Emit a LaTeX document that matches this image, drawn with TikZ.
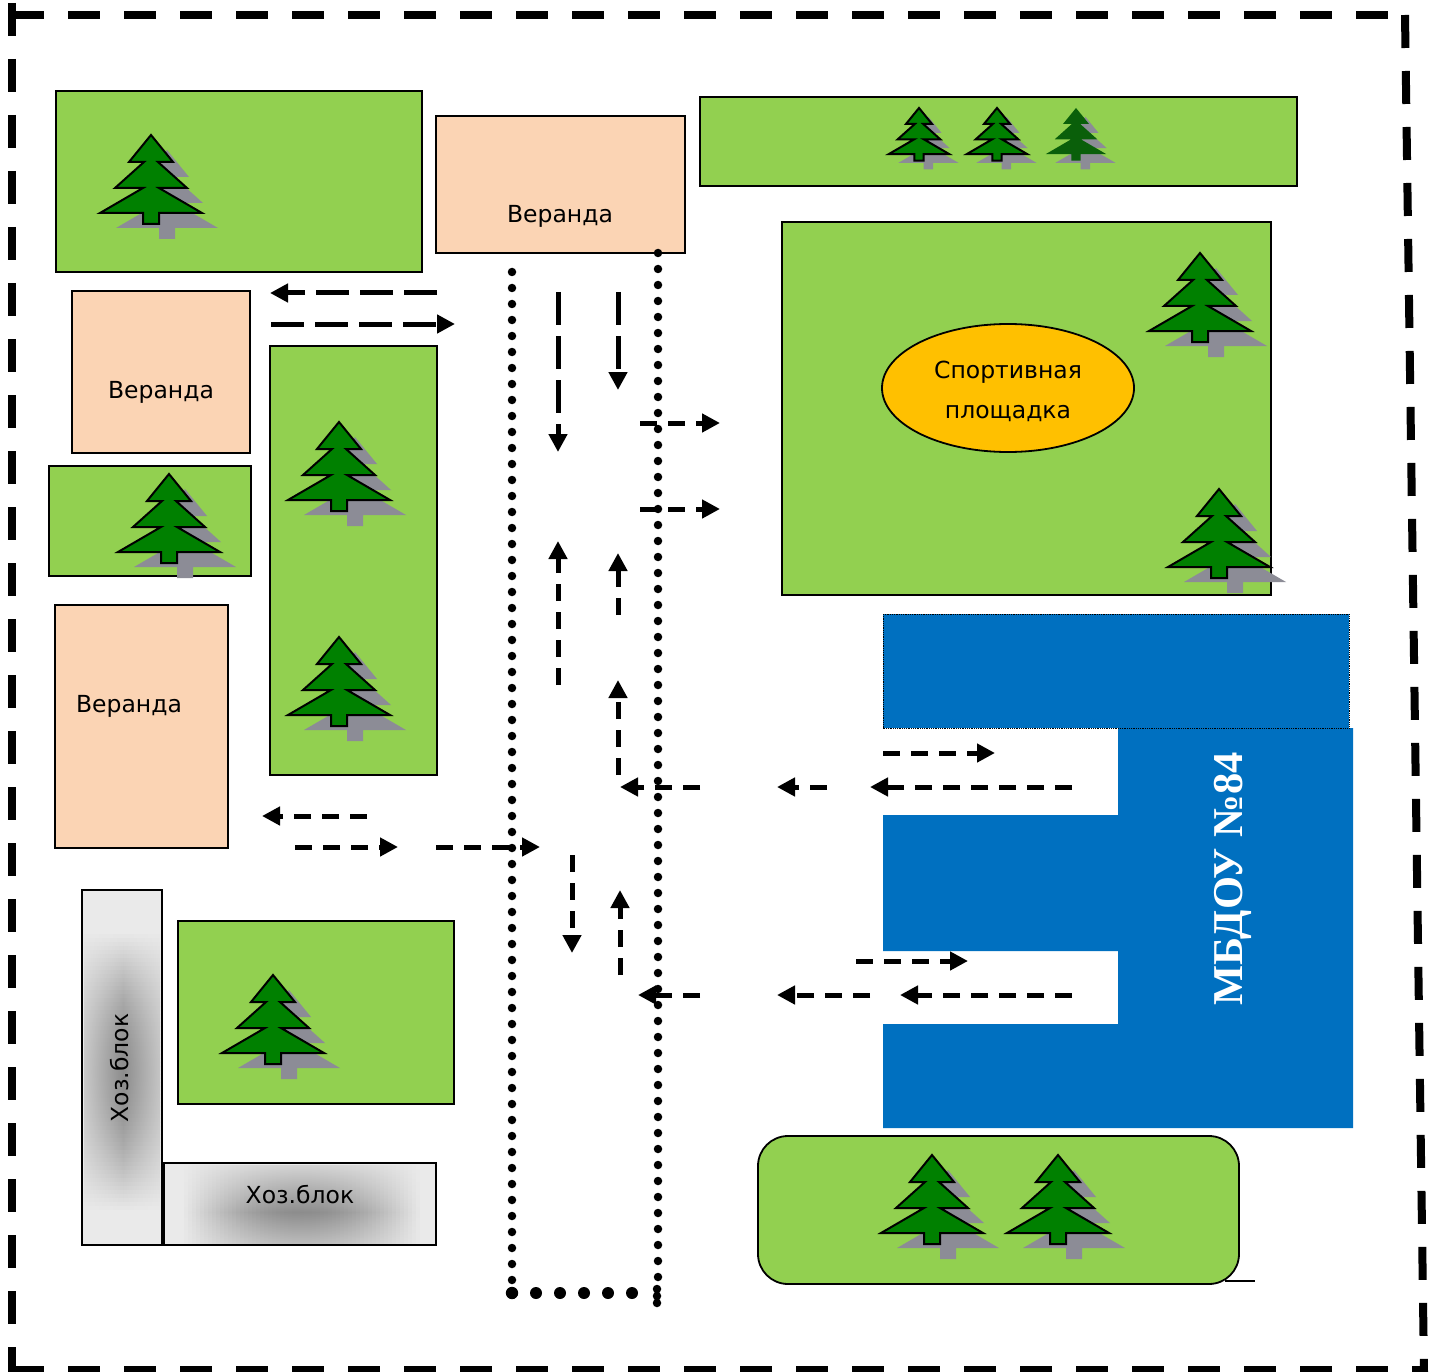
\documentclass[tikz,border=0pt]{standalone}
\usepackage{fontspec}
\setmainfont{DejaVu Sans}
\newfontfamily\titlefont{Liberation Serif}
\usetikzlibrary{arrows.meta}
\definecolor{lawngreen}{HTML}{92D050}
\definecolor{verandapeach}{HTML}{FBD4B4}
\definecolor{housemblue}{HTML}{0070C0}
\definecolor{fieldyellow}{HTML}{FFC000}
\definecolor{firgreen}{HTML}{008000}
\definecolor{firdark}{HTML}{0A5F0A}
\definecolor{firshadow}{HTML}{8C8C96}
\definecolor{blockgray}{HTML}{EAEAEA}
\def\firpath{(0,0) -- (22,27) -- (7,27) -- (36,53) -- (8,53) -- (51,78) -- (8,78) -- (8,89)
  -- (-8,89) -- (-8,78) -- (-51,78) -- (-8,53) -- (-36,53) -- (-7,27) -- (-22,27) -- cycle}
\tikzset{
  lawn/.style={draw=black,line width=1.8pt,fill=lawngreen},
  veranda/.style={draw=black,line width=1.8pt,fill=verandapeach},
  block/.style={draw=black,line width=1.8pt,fill=blockgray},
  fence/.style={line width=8pt},
  pathdots/.style={line width=8.5pt,line cap=round,dash pattern=on 0pt off 16pt},
  walk/.style={line width=5pt,-{Triangle[width=18pt,length=18pt]}},
  walklong/.style={walk,dash pattern=on 33pt off 11pt},
  walkshort/.style={walk,dash pattern=on 17pt off 11pt},
  label/.style={font=\fontsize{23.5}{28}\selectfont,text=black},
  pics/fir/.style={code={
    \fill[firshadow,shift={(16,15)}] \firpath;
    \draw[fill=firgreen,line width=2pt,miter limit=4] \firpath;
  }},
  pics/firdim/.style={code={
    \fill[firshadow,shift={(16,15)}] \firpath;
    \fill[firdark] \firpath;
  }}
}

\begin{document}
\begin{tikzpicture}[x=1pt,y=-1pt]
  \useasboundingbox[fill=white] (0,0) rectangle (1440,1372);
  % fence
  \draw[fence,dash pattern=on 32pt off 24pt] (12,15.5) -- (1390,15.5);
  \draw[fence,dash pattern=on 33pt off 23pt] (12,3) -- (12,1372);
  \draw[fence,dash pattern=on 32pt off 24pt] (12,1370) -- (1428,1370);
  \draw[fence,dash pattern=on 33pt off 23pt] (1405,15) -- (1424,1372);
  % lawns
  \draw[lawn] (56,91) rectangle (422,272);
  \draw[lawn] (700,97) rectangle (1297,186);
  \draw[lawn] (782,222) rectangle (1271,595);
  \draw[lawn] (270,346) rectangle (437,775);
  \draw[lawn] (49,466) rectangle (251,576);
  \draw[lawn] (178,921) rectangle (454,1104);
  \draw[lawn,rounded corners=30pt] (758,1136) rectangle (1239,1284);
  \draw[line width=1.2pt] (1225,1281) -- (1255,1281);
  % verandas
  \draw[veranda] (436,116) rectangle (685,253);
  \draw[veranda] (72,291) rectangle (250,453);
  \draw[veranda] (55,605) rectangle (228,848);
  \node[label] (verandatop) at (560,216) {Веранда};
  \node[label] (verandamid) at (161,392) {Веранда};
  \node[label] (verandalow) at (129,706) {Веранда};
  % sports ground
  \draw[draw=black,line width=1.8pt,fill=fieldyellow] (1008,388) ellipse (126 and 64);
  \node[label] (sporttop) at (1008,372) {Спортивная};
  \node[label] (sportlow) at (1008,414) {площадка};
  % utility blocks
  \draw[block] (82,890) rectangle (162,1245);
  \draw[block] (164,1163) rectangle (436,1245);
  \begin{scope}
    \clip (84,892) rectangle (160,1243);
    \foreach \t in {0,...,70}{
      \pgfmathsetmacro\glow{40*sin(180*\t/70)}
      \shade[left color=blockgray,right color=blockgray,middle color=black!\glow!blockgray]
        (62,{930+4*\t}) rectangle (184,{934.5+4*\t});
    }
  \end{scope}
  \begin{scope}
    \clip (166,1165) rectangle (434,1243);
    \foreach \t in {0,...,60}{
      \pgfmathsetmacro\glow{40*sin(180*\t/60)}
      \shade[top color=blockgray,bottom color=blockgray,middle color=black!\glow!blockgray]
        ({180+4*\t},1150) rectangle ({184.5+4*\t},1274);
    }
  \end{scope}
  \node[label,rotate=90] (blockleft) at (120,1068) {Хоз.блок};
  \node[label] (blockright) at (300,1195) {Хоз.блок};
  % building
  \fill[housemblue] (1118,728) -- (1353,728) -- (1353,1128) -- (883,1128) -- (883,1024)
    -- (1118,1024) -- (1118,951) -- (883,951) -- (883,815) -- (1118,815) -- cycle;
  \draw[densely dotted,line width=.8pt,fill=housemblue] (883,614) rectangle (1349,728);
  \node[rotate=90,text=white,font=\titlefont\bfseries\fontsize{42.5}{48}\selectfont] (school) at (1233,879) {МБДОУ №84};
  % firs
  \pic at (151,135) {fir};
  \pic at (339,422) {fir};
  \pic at (339,637) {fir};
  \pic at (169,474) {fir};
  \pic at (1200,253) {fir};
  \pic at (1219,489) {fir};
  \pic at (273,975) {fir};
  \pic at (932,1155) {fir};
  \pic at (1058,1155) {fir};
  \pic[scale=.59] at (919,108) {fir};
  \pic[scale=.59] at (997,108) {fir};
  \pic[scale=.59] at (1076,108) {firdim};
  % dotted alley
  \draw[pathdots] (512,272) -- (512,1281);
  \draw[pathdots] (658,253) -- (658,1286);
  \draw[pathdots,dash pattern=on 0pt off 7pt] (657,1289) -- (657,1304);
  \fill (512,1293) circle (6.2);
  \fill (536,1293) circle (6);
  \fill (560,1293) circle (6);
  \fill (584,1293) circle (6);
  \fill (608,1293) circle (6);
  \fill (632,1293) circle (6);
  % walking routes
  \draw[walklong] (437,293) -- (270,293);
  \draw[walklong] (271,324) -- (455,324);
  \draw[walklong] (558,292) -- (558,452);
  \draw[walklong] (618,292) -- (618,390);
  \draw[walkshort] (640,423) -- (720,423);
  \draw[walkshort] (640,509) -- (720,509);
  \draw[walkshort] (558,685) -- (558,541);
  \draw[walkshort] (618,615) -- (618,553);
  \draw[walkshort] (618,775) -- (618,680);
  \draw[walkshort] (700,787) -- (620,787);
  \draw[walkshort] (827,787) -- (777,787);
  \draw[walkshort] (1072,787) -- (870,787);
  \draw[walkshort] (883,753) -- (995,753);
  \draw[walkshort] (367,816) -- (262,816);
  \draw[walkshort] (295,847) -- (398,847);
  \draw[walkshort] (436,847) -- (540,847);
  \draw[walkshort] (572,855) -- (572,953);
  \draw[walkshort] (620,975) -- (620,890);
  \draw[walkshort] (700,995) -- (638,995);
  \draw[walkshort] (870,995) -- (777,995);
  \draw[walkshort] (1072,995) -- (900,995);
  \draw[walkshort] (856,961) -- (968,961);
\end{tikzpicture}
\end{document}
